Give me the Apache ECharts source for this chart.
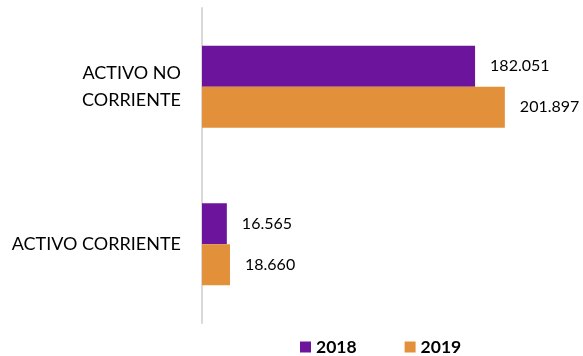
<!DOCTYPE html>
<html>
<head>
<meta charset="utf-8">
<script src="https://cdn.jsdelivr.net/npm/echarts@6/dist/echarts.min.js"></script>
<style>
  html, body { margin: 0; padding: 0; background: #fff; }
  #chart { width: 583px; height: 356px; }
</style>
</head>
<body>
<div id="chart"></div>
<script>
// Asset groups, listed top to bottom
const categories = ['ACTIVO NO CORRIENTE', 'ACTIVO CORRIENTE'];
const seriesNames = ['2018', '2019'];
const values2018 = [182051, 16565];
const values2019 = [201897, 18660];
const colors = ['#6c159c', '#e2913a'];

const FONT = 'Lato, "Open Sans", sans-serif';

// Spanish style thousands separator: 182051 -> 182.051
function fmt(v) {
  return String(v).replace(/\B(?=(\d{3})+(?!\d))/g, '.');
}

const chart = echarts.init(document.getElementById('chart'), null, { renderer: 'canvas' });

function barSeries(name, data, color) {
  return {
    name: name,
    type: 'bar',
    data: data,
    barWidth: 41,
    barGap: '0%',
    itemStyle: { color: color },
    label: {
      show: true,
      position: 'right',
      distance: 15,
      color: '#000',
      fontFamily: FONT,
      fontSize: 16,
      formatter: p => fmt(p.value)
    }
  };
}

chart.setOption({
  animation: false,
  backgroundColor: '#fff',
  grid: { left: 202, top: 8, width: 360, height: 315, containLabel: false },
  xAxis: {
    type: 'value',
    min: 0,
    max: 240000,
    show: false
  },
  yAxis: {
    type: 'category',
    data: categories,
    inverse: true,
    offset: 1,
    axisLine: { show: true, lineStyle: { color: '#d9d9d9', width: 2 } },
    axisTick: { show: false },
    axisLabel: {
      color: '#000',
      fontFamily: FONT,
      fontSize: 18,
      margin: 20,
      lineHeight: 27,
      align: 'right',
      formatter: v => v === 'ACTIVO NO CORRIENTE' ? 'ACTIVO NO\nCORRIENTE' : v
    }
  },
  legend: {
    data: seriesNames,
    left: 300,
    top: 338,
    icon: 'rect',
    itemWidth: 11,
    itemHeight: 11,
    itemGap: 48,
    textStyle: { color: '#000', fontFamily: FONT, fontSize: 17.5, fontWeight: 'bold', padding: [0, 0, 0, 0] },
    padding: 0
  },
  series: [
    barSeries(seriesNames[0], values2018, colors[0]),
    barSeries(seriesNames[1], values2019, colors[1])
  ]
});
</script>
</body>
</html>
